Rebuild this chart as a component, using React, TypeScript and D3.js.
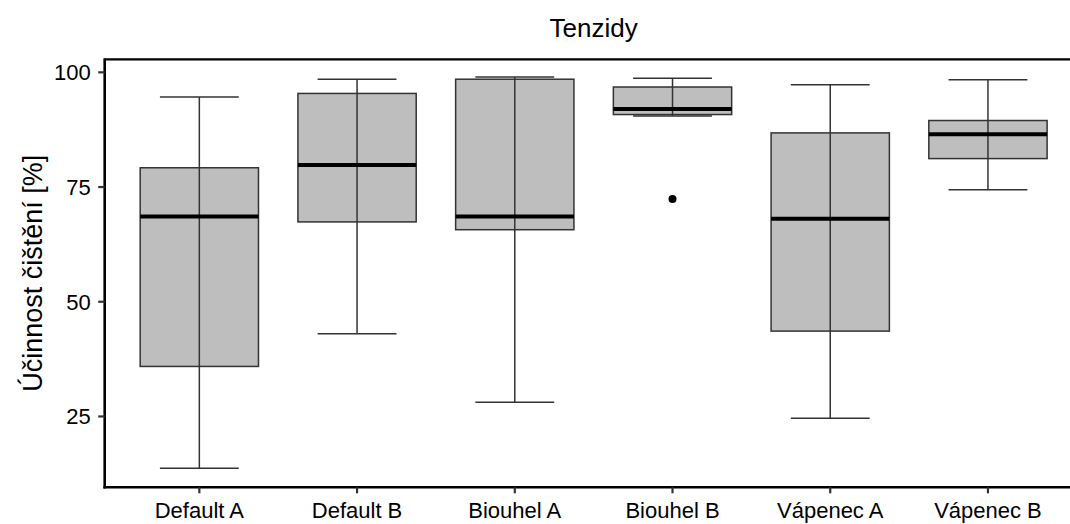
import React from "react";
import * as d3 from "d3";

const categories = ["Default A", "Default B", "Biouhel A", "Biouhel B", "Vápenec A", "Vápenec B"];
const whiskerLow = [13.7, 43.0, 28.1, 90.5, 24.6, 74.4];
const q1 = [35.9, 67.4, 65.7, 90.8, 43.6, 81.2];
const median = [68.6, 79.8, 68.6, 92.0, 68.1, 86.5];
const q3 = [79.2, 95.4, 98.5, 96.8, 86.8, 89.5];
const whiskerHigh = [94.6, 98.5, 99.0, 98.7, 97.3, 98.4];
const outliers = [{ cat: "Biouhel B", value: 72.4 }];
const yTicks = [25, 50, 75, 100];

const W = 1070;
const H = 524;
const left = 104.7;
const right = 1082.6;
const top = 59.3;
const bottom = 487.3;
const font = "'Liberation Sans', Arial, sans-serif";

export default function App() {
  const x = d3.scalePoint<string>().domain(categories).range([left, right]).padding(0.6);
  const step = x.step();
  const y = d3.scaleLinear().domain([9.56, 102.84]).range([bottom, top]);
  const boxW = step * 0.75;
  const capW = step * 0.5;
  const stroke = "#333333";

  return (
    <svg width={W} height={H} style={{ position: "absolute", left: 0, top: 0, background: "#fff" }}>
      <rect x={0} y={0} width={W} height={H} fill="#fff" />
      {categories.map((c, i) => {
        const cx = x(c)!;
        return (
          <g key={c}>
            <line x1={cx - capW / 2} x2={cx + capW / 2} y1={y(whiskerHigh[i])} y2={y(whiskerHigh[i])} stroke={stroke} strokeWidth={1.5} />
            <line x1={cx - capW / 2} x2={cx + capW / 2} y1={y(whiskerLow[i])} y2={y(whiskerLow[i])} stroke={stroke} strokeWidth={1.5} />
            <line x1={cx} x2={cx} y1={y(whiskerHigh[i])} y2={y(q3[i])} stroke={stroke} strokeWidth={1.5} />
            <line x1={cx} x2={cx} y1={y(q1[i])} y2={y(whiskerLow[i])} stroke={stroke} strokeWidth={1.5} />
            <rect x={cx - boxW / 2} y={y(q3[i])} width={boxW} height={y(q1[i]) - y(q3[i])} fill="#bebebe" stroke={stroke} strokeWidth={1.5} />
            <line x1={cx} x2={cx} y1={y(q3[i])} y2={y(q1[i])} stroke={stroke} strokeWidth={1.5} />
            <line x1={cx - boxW / 2} x2={cx + boxW / 2} y1={y(median[i])} y2={y(median[i])} stroke="#000" strokeWidth={4} />
          </g>
        );
      })}
      {outliers.map((o, i) => (
        <circle key={i} cx={x(o.cat)!} cy={y(o.value)} r={4} fill="#000" />
      ))}
      <line x1={left} x2={W} y1={top} y2={top} stroke="#000" strokeWidth={2.2} />
      <line x1={left} x2={left} y1={top - 1} y2={bottom + 1.2} stroke="#000" strokeWidth={2.6} />
      <line x1={left - 1.3} x2={W} y1={bottom} y2={bottom} stroke="#000" strokeWidth={2.6} />
      {yTicks.map((t) => (
        <g key={t}>
          <line x1={left - 6.5} x2={left} y1={y(t)} y2={y(t)} stroke={stroke} strokeWidth={2.2} />
          <text x={left - 14} y={y(t)} dy="0.36em" textAnchor="end" fontFamily={font} fontSize={22} fill="#000">
            {t}
          </text>
        </g>
      ))}
      {categories.map((c) => (
        <g key={c}>
          <line x1={x(c)!} x2={x(c)!} y1={bottom} y2={bottom + 6} stroke={stroke} strokeWidth={2.2} />
          <text x={x(c)!} y={517.5} textAnchor="middle" fontFamily={font} fontSize={22} fill="#000">
            {c}
          </text>
        </g>
      ))}
      <text transform={`translate(41.5, ${(top + bottom) / 2}) rotate(-90)`} textAnchor="middle" fontFamily={font} fontSize={27} fill="#000">
        Účinnost čištění [%]
      </text>
      <text x={(left + right) / 2} y={36.5} textAnchor="middle" fontFamily={font} fontSize={26} fill="#000">
        Tenzidy
      </text>
    </svg>
  );
}
